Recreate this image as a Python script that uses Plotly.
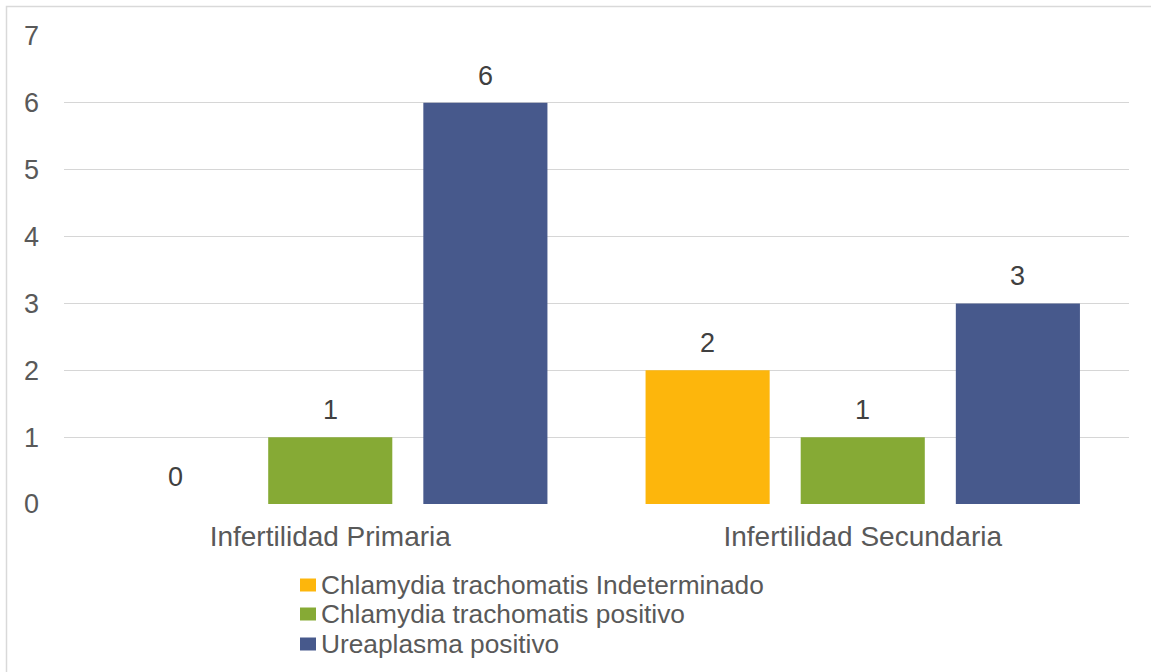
import plotly.graph_objects as go

# Categories and series
categories = ["Infertilidad Primaria", "Infertilidad Secundaria"]
series_names = [
    "Chlamydia trachomatis Indeterminado",
    "Chlamydia trachomatis positivo",
    "Ureaplasma positivo",
]
indeterminado = [0, 2]
chlamydia_pos = [1, 1]
ureaplasma_pos = [6, 3]
y_ticks = [0, 1, 2, 3, 4, 5, 6, 7]

series_values = [indeterminado, chlamydia_pos, ureaplasma_pos]
colors = ["#FDB60C", "#86AA35", "#47598C"]

W, H = 1151, 672
M_L, M_R, M_T, M_B = 64, 22, 36, 168
PW, PH = W - M_L - M_R, H - M_T - M_B

BARGAP = 0.126
BARGROUPGAP = 0.2
FONT = "Liberation Sans, Arial, sans-serif"


def px_x(px):
    return (px - M_L) / PW


def px_y(py):
    return 1 - (py - M_T) / PH


fig = go.Figure()
for name, vals, col in zip(series_names, series_values, colors):
    fig.add_trace(go.Bar(
        name=name, x=categories, y=vals,
        marker=dict(color=col, line=dict(width=0)),
        showlegend=False,
    ))

# Value labels placed above each bar
n = len(series_values)
slot = (1 - BARGAP) / n
annotations = []
for i, vals in enumerate(series_values):
    offset = (i - (n - 1) / 2) * slot
    for j, v in enumerate(vals):
        annotations.append(dict(
            x=j + offset, y=v, xref="x", yref="y",
            text=str(v), showarrow=False, yshift=27,
            font=dict(family=FONT, size=27, color="#404040"),
        ))

# Legend drawn below the plot
shapes = []
leg_rows = [585, 614, 644]
for name, col, cy in zip(series_names, colors, leg_rows):
    shapes.append(dict(
        type="rect", xref="paper", yref="paper",
        x0=px_x(300), x1=px_x(316), y0=px_y(cy + 6.5), y1=px_y(cy - 6.5),
        fillcolor=col, line=dict(width=0),
    ))
    annotations.append(dict(
        x=px_x(319), y=px_y(cy), xref="paper", yref="paper",
        xanchor="left", yanchor="middle", text=name, showarrow=False,
        font=dict(family=FONT, size=26.3, color="#595959"),
    ))

# Chart area outline
shapes.append(dict(
    type="rect", xref="paper", yref="paper", layer="below",
    x0=px_x(6.5), x1=px_x(W + 20), y0=px_y(H + 20), y1=px_y(6.5),
    line=dict(color="#D9D9D9", width=1.5), fillcolor="rgba(0,0,0,0)",
))

fig.update_layout(
    width=W, height=H,
    margin=dict(l=M_L, r=M_R, t=M_T, b=M_B, pad=0),
    paper_bgcolor="white", plot_bgcolor="white",
    barmode="group", bargap=BARGAP, bargroupgap=BARGROUPGAP,
    font=dict(family=FONT, size=27, color="#595959"),
    annotations=annotations, shapes=shapes,
    xaxis=dict(
        showline=False, showgrid=False, zeroline=False, ticks="",
        tickfont=dict(family=FONT, size=28, color="#595959"),
        ticklabelstandoff=13,
    ),
    yaxis=dict(
        range=[0, 7], tickvals=y_ticks, showline=False, zeroline=False,
        showgrid=True, gridcolor="#D6D6D6", gridwidth=1.4, ticks="",
        tickfont=dict(family=FONT, size=27, color="#595959"),
        ticklabelstandoff=24,
    ),
)

fig.write_html("out.html")
